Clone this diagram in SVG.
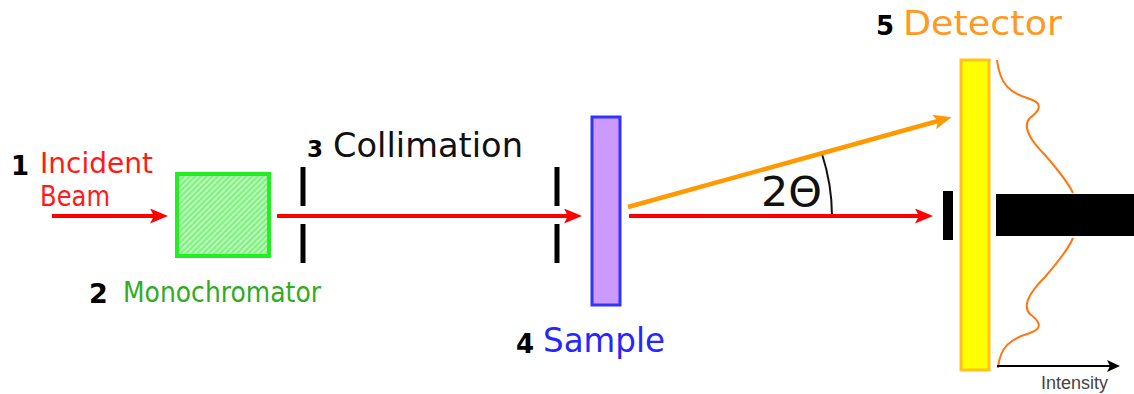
<svg xmlns="http://www.w3.org/2000/svg" width="1134" height="394" viewBox="0 0 1134 394">
<defs>
<style>
.lbl{font-family:"DejaVu Sans","Liberation Sans",sans-serif;}
.num{font-family:"DejaVu Sans","Liberation Sans",sans-serif;font-weight:bold;fill:#000;}
.beam{fill:none;stroke-linecap:butt;}
.slit{stroke:#000;stroke-width:5;}
</style>
<pattern id="hatch" patternUnits="userSpaceOnUse" width="4" height="4" patternTransform="rotate(45)">
<rect width="4" height="4" fill="#80f080"/>
<rect width="1.6" height="4" fill="#c8ffc8"/>
</pattern>
<marker id="arRed" markerUnits="userSpaceOnUse" markerWidth="20" markerHeight="16" refX="4" refY="7.5" orient="auto">
<path d="M0,0 L18,7.5 L0,15 L4,7.5 z" fill="#ff0000"/>
</marker>
<marker id="arOrange" markerUnits="userSpaceOnUse" markerWidth="20" markerHeight="16" refX="4" refY="7.5" orient="auto">
<path d="M0,0 L18,7.5 L0,15 L4,7.5 z" fill="#ff9900"/>
</marker>
<marker id="arBlack" markerUnits="userSpaceOnUse" markerWidth="16" markerHeight="14" refX="3" refY="6" orient="auto">
<path d="M0,0 L13,6 L0,12 L3,6 z" fill="#000"/>
</marker>
</defs>
<rect width="1134" height="394" fill="#ffffff"/>

<g id="source">
<text class="num" x="11" y="175" font-size="26">1</text>
<text class="lbl" x="40" y="173" font-size="28" fill="#ff1a1a" textLength="113" lengthAdjust="spacingAndGlyphs">Incident</text>
<text class="lbl" x="40" y="206" font-size="28" fill="#ff1a1a" textLength="70" lengthAdjust="spacingAndGlyphs">Beam</text>
</g>

<g id="monochromator">
<rect x="177" y="174" width="92" height="82" fill="url(#hatch)" stroke="#22ee22" stroke-width="4"/>
<text class="num" x="89" y="303" font-size="27">2</text>
<text class="lbl" x="123" y="302" font-size="28" fill="#33aa22" textLength="198" lengthAdjust="spacingAndGlyphs">Monochromator</text>
</g>

<g id="collimation">
<line class="slit" x1="303" y1="167" x2="303" y2="206"/>
<line class="slit" x1="303" y1="224" x2="303" y2="263"/>
<line class="slit" x1="557" y1="167" x2="557" y2="206"/>
<line class="slit" x1="557" y1="224" x2="557" y2="263"/>
<text class="num" x="307" y="157" font-size="23">3</text>
<text class="lbl" x="333" y="157" font-size="34" fill="#111" textLength="190" lengthAdjust="spacingAndGlyphs">Collimation</text>
</g>

<g id="sample">
<rect x="592" y="117" width="28" height="188" fill="#cc99ff" stroke="#3333ff" stroke-width="3"/>
<text class="num" x="516" y="353" font-size="26">4</text>
<text class="lbl" x="543" y="352" font-size="33" fill="#2626ff" textLength="122" lengthAdjust="spacingAndGlyphs">Sample</text>
</g>

<g id="beamstop">
<rect x="943" y="191" width="10" height="49" fill="#000"/>
</g>

<g id="detector">
<rect x="961" y="60" width="28" height="310" fill="#ffff00" stroke="#ffc21a" stroke-width="3"/>
<text class="num" x="876" y="35" font-size="26">5</text>
<text class="lbl" x="903" y="35" font-size="33" fill="#ff9922" textLength="159" lengthAdjust="spacingAndGlyphs">Detector</text>
</g>

<g id="intensity-plot">
<rect x="996" y="194" width="138" height="42" fill="#000"/>
<path d="M997,60 C1000,85 1010,93 1030,99 C1045,104 1038,112 1030,118 C1022,126 1030,140 1045,155 C1058,170 1068,182 1073,193" fill="none" stroke="#ff7711" stroke-width="2"/>
<path d="M1073,238 C1068,250 1058,262 1045,277 C1030,292 1022,306 1030,314 C1038,320 1045,328 1030,333 C1010,339 1000,347 998,368" fill="none" stroke="#ff7711" stroke-width="2"/>
<text x="1041" y="389" font-family="Liberation Sans, Arial, sans-serif" font-size="18" fill="#444" textLength="67" lengthAdjust="spacingAndGlyphs">Intensity</text>
</g>

<g id="angle">
<path d="M822,154 A203,203 0 0,1 832,216" fill="none" stroke="#111" stroke-width="2"/>
<text class="lbl" x="761" y="206" font-size="40" fill="#111" textLength="61" lengthAdjust="spacingAndGlyphs">2Θ</text>
</g>

<g id="connectors">
<line class="beam" x1="52" y1="216" x2="154" y2="216" stroke="#ff0000" stroke-width="4" marker-end="url(#arRed)"/>
<line class="beam" x1="277" y1="216" x2="568" y2="216" stroke="#ff0000" stroke-width="4" marker-end="url(#arRed)"/>
<line class="beam" x1="629" y1="216" x2="919" y2="216" stroke="#ff0000" stroke-width="4" marker-end="url(#arRed)"/>
<line class="beam" x1="628" y1="207" x2="938" y2="121" stroke="#ff9900" stroke-width="4.5" marker-end="url(#arOrange)"/>
<line class="beam" x1="997" y1="366" x2="1110" y2="366" stroke="#000" stroke-width="2" marker-end="url(#arBlack)"/>
</g>
</svg>
